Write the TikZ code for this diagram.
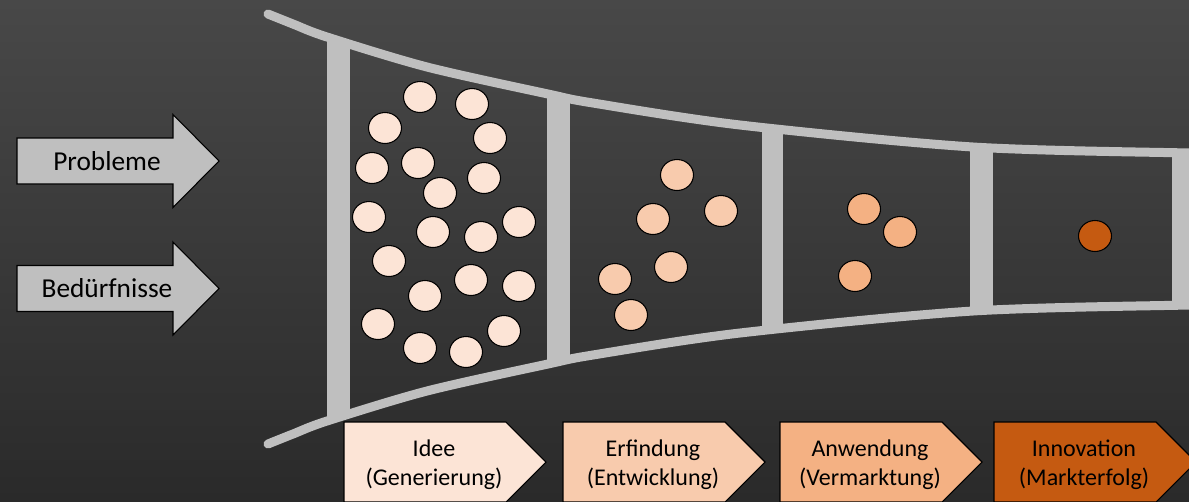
\documentclass[tikz,border=0pt]{standalone}
\usepackage{fontspec}
\setmainfont{Carlito}
\usetikzlibrary{arrows,positioning,shapes}
\definecolor{bgtop}{RGB}{72,72,72}
\definecolor{bgbottom}{RGB}{42,42,42}
\definecolor{funnelgray}{RGB}{191,191,191}
\definecolor{ideaone}{RGB}{252,228,214}
\definecolor{ideatwo}{RGB}{248,203,173}
\definecolor{ideathree}{RGB}{244,177,131}
\definecolor{ideafour}{RGB}{197,90,17}
\tikzset{
    %Define style for input arrows
    inarrow/.style={
           draw=black,
           fill=funnelgray,
           line width=0.8pt},
    inlabel/.style={
           inner sep=0pt,
           font=\fontsize{20.5}{24}\selectfont},
    %Define style for stage boxes
    stagebox/.style={
           draw=black,
           line width=0.8pt},
    stagelabel/.style={
           inner sep=0pt,
           align=center,
           text=black,
           font=\fontsize{18}{21.5}\selectfont},
    %Define style for ideas
    idea/.style={
           ellipse,
           draw=black,
           line width=0.8pt,
           minimum width=24.75pt,
           minimum height=23.25pt,
           inner sep=0pt},
    % Define funnel line style
    funnel/.style={
           draw=funnelgray,
           line width=6.75pt,
           line cap=round}
}
\begin{document}
\begin{tikzpicture}[x=0.75pt, y=-0.75pt]
    % BACKGROUND
    \shade[top color=bgtop, bottom color=bgbottom] (0,0) rectangle (1189,501);
    \useasboundingbox (0,0) rectangle (1189,501);

    % FUNNEL
    \fill[funnelgray] (327,42) rectangle (350,417);
    \fill[funnelgray] (547,98) rectangle (570,360);
    \fill[funnelgray] (762,130) rectangle (783,328);
    \fill[funnelgray] (970,150) rectangle (993,308);
    \fill[funnelgray] (1172,155) rectangle (1200,303);
    \draw[funnel] plot[smooth] coordinates {(268,14) (293,24) (327,37) (427,67)
        (548,94) (593,103) (740,125) (973,147) (1189,153) (1210,153)};
    \draw[funnel] plot[smooth] coordinates {(268,444) (293,434) (327,421) (427,391)
        (548,364) (593,355) (740,333) (973,311) (1189,305) (1210,305)};

    % IDEAS
    \foreach \x/\y [count=\i] in {420/97, 472/104, 385/128, 490/138, 372/168,
        418/163, 484/178, 440/193, 369/217, 519/222, 433/232, 481/237, 389/261,
        471/280, 519/286, 425/296, 378/324, 504/331, 420/348, 466/352}
        \node[idea, fill=ideaone] (ia\i) at (\x,\y) {};
    \foreach \x/\y [count=\i] in {677/175, 653/219, 721/211, 671/267, 615/279, 631/315}
        \node[idea, fill=ideatwo] (ib\i) at (\x,\y) {};
    \foreach \x/\y [count=\i] in {864/209, 900/232, 855/276}
        \node[idea, fill=ideathree] (ic\i) at (\x,\y) {};
    \node[idea, fill=ideafour] (id1) at (1095,236) {};

    % INPUTS
    \foreach \y/\n/\t in {161/probleme/Probleme, 288.5/beduerfnisse/Bedürfnisse}{
        \draw[inarrow] (17,\y-23) -- (173,\y-23) -- (173,\y-46.5) -- (219,\y)
            -- (173,\y+46.5) -- (173,\y+23) -- (17,\y+23) -- cycle;
        \node[inlabel] at (107,\y) (\n) {\t};
    }

    % STAGES
    \foreach \x/\c/\n/\t in {344/ideaone/idee/{Idee\\(Generierung)},
        563/ideatwo/erfindung/{Erfindung\\(Entwicklung)},
        780/ideathree/anwendung/{Anwendung\\(Vermarktung)},
        994/ideafour/innovation/{Innovation\\(Markterfolg)}}{
        \draw[stagebox, fill=\c] (\x,422) -- ++(162,0) -- ++(40,40) -- ++(-40,40)
            -- ++(-162,0) -- cycle;
        \node[stagelabel] at (\x+90,465) (\n) {\t};
    }
\end{tikzpicture}
\end{document}
